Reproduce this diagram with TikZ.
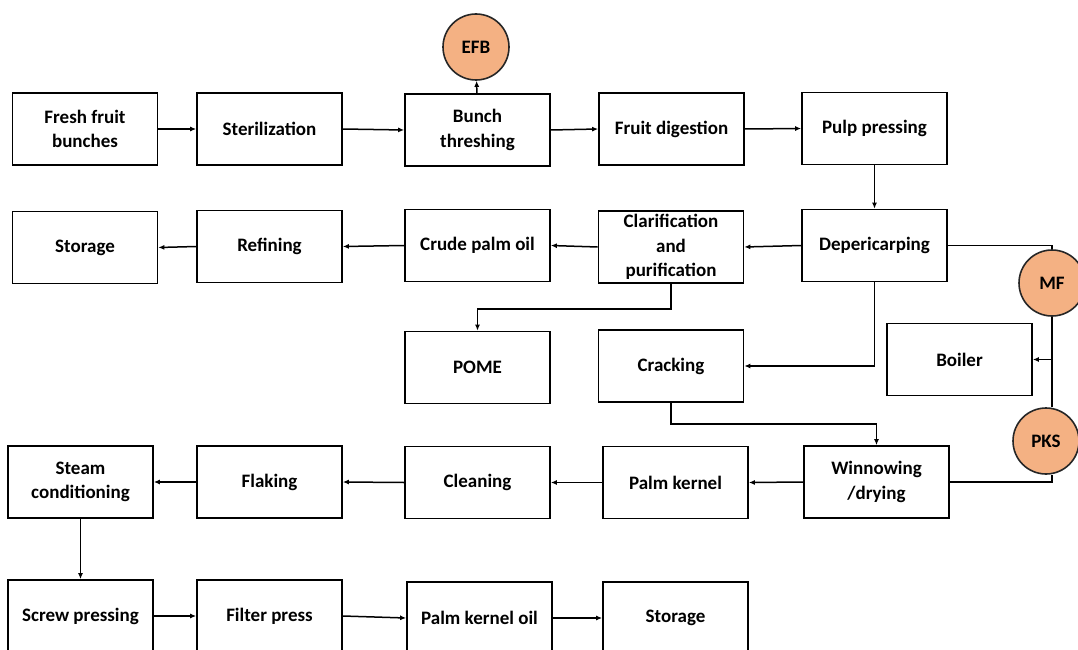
\documentclass[tikz,border=0pt]{standalone}
\usepackage{fontspec}
\setmainfont{Carlito}
\usetikzlibrary{arrows.meta,calc}
\pgfdeclarelayer{background}
\pgfsetlayers{background,main}
\definecolor{byprod}{HTML}{F4B183}
\begin{document}
\begin{tikzpicture}[x=1pt,y=-1pt,
  stepbox/.style={draw=black,line width=1.7pt,minimum width=145pt,minimum height=72pt,
    inner sep=2pt,align=center,font=\fontsize{19}{24.5}\selectfont\bfseries},
  waste/.style={circle,draw=black!85,line width=1.6pt,fill=byprod,minimum size=66pt,
    inner sep=0pt,font=\fontsize{19}{24}\selectfont\bfseries},
  flow/.style={line width=1.5pt,-{Latex[length=6pt,width=5pt]}},
  link/.style={line width=1.5pt}]
\path[use as bounding box] (0,0) rectangle (1078,650);
\clip (0,0) rectangle (1078,650);

% palm oil line
\node[stepbox] (ffb)    at (85,129)     {Fresh fruit\\bunches};
\node[stepbox] (ster)   at (269.5,129)  {Sterilization};
\node[stepbox] (bunch)  at (477.5,130)  {Bunch\\threshing};
\node[stepbox] (digest) at (671.5,129)  {Fruit digestion};
\node[stepbox] (pulp)   at (874.5,128.5){Pulp pressing};
\node[waste]   (efb)    at (476,47)     {EFB};

\node[stepbox] (stor1)  at (85,247.5)   {Storage};
\node[stepbox] (refin)  at (269.5,246.5){Refining};
\node[stepbox] (cpo)    at (477.5,245.5){Crude palm oil};
\node[stepbox] (clar)   at (671,247)    {Clarification\\and\\purification};
\node[stepbox] (deper)  at (874.5,245.5){Depericarping};

\node[stepbox] (pome)   at (477.5,367.5){POME};
\node[stepbox] (crack)  at (671,366)    {Cracking};
\node[stepbox] (boiler) at (959.5,359.5){Boiler};
\node[waste]   (mf)     at (1052,283)   {MF};
\node[waste]   (pks)    at (1046,441)   {PKS};

% palm kernel line
\node[stepbox] (steam)  at (80.5,482)   {Steam\\conditioning};
\node[stepbox] (flak)   at (269.5,482)  {Flaking};
\node[stepbox] (clean)  at (477.5,482.5){Cleaning};
\node[stepbox] (pk)     at (675.5,482.5){Palm kernel};
\node[stepbox] (winn)   at (876.5,482)  {Winnowing\\/drying};

\node[stepbox] (screw)  at (80.5,616)   {Screw pressing};
\node[stepbox] (filter) at (269.5,616)  {Filter press};
\node[stepbox] (pko)    at (479.5,618)  {Palm kernel oil};
\node[stepbox] (stor2)  at (675.5,618)  {Storage};

\begin{pgfonlayer}{background}
\draw[flow] (ffb) -- (ster);
\draw[flow] (ster.east) -- (bunch.west);
\draw[flow] (bunch) -- (efb);
\draw[flow] (bunch.east) -- (digest.west);
\draw[flow] (digest.east) -- (pulp.west);
\draw[flow] (pulp) -- (deper);
\draw[flow] (deper.west) -- (clar.east);
\draw[flow] (clar.west) -- (cpo.east);
\draw[flow] (cpo.west) -- (refin.east);
\draw[flow] (refin.west) -- (stor1.east);
\draw[flow] (clar.south) -- ++(0,25) -| (pome.north);
\draw[flow] (deper.south) |- (crack.east);
\draw[link] (deper.east) -| (mf.north);
\draw[link] (mf.south) -- (mf.south |- pks.north);
\draw[flow] (mf.south |- boiler.east) -- (boiler.east);
\draw[link] (winn.east) -| (mf.south |- pks.south);
\draw[flow] (crack.south) -- ++(0,21) -| (winn.north);
\draw[flow] (winn.west) -- (pk.east);
\draw[flow] (pk.west) -- (clean.east);
\draw[flow] (clean.west) -- (flak.east);
\draw[flow] (flak.west) -- (steam.east);
\draw[flow] (steam) -- (screw);
\draw[flow] (screw.east) -- (filter.west);
\draw[flow] (filter.east) -- (pko.west);
\draw[flow] (pko.east) -- (stor2.west);
\end{pgfonlayer}
\end{tikzpicture}
\end{document}
